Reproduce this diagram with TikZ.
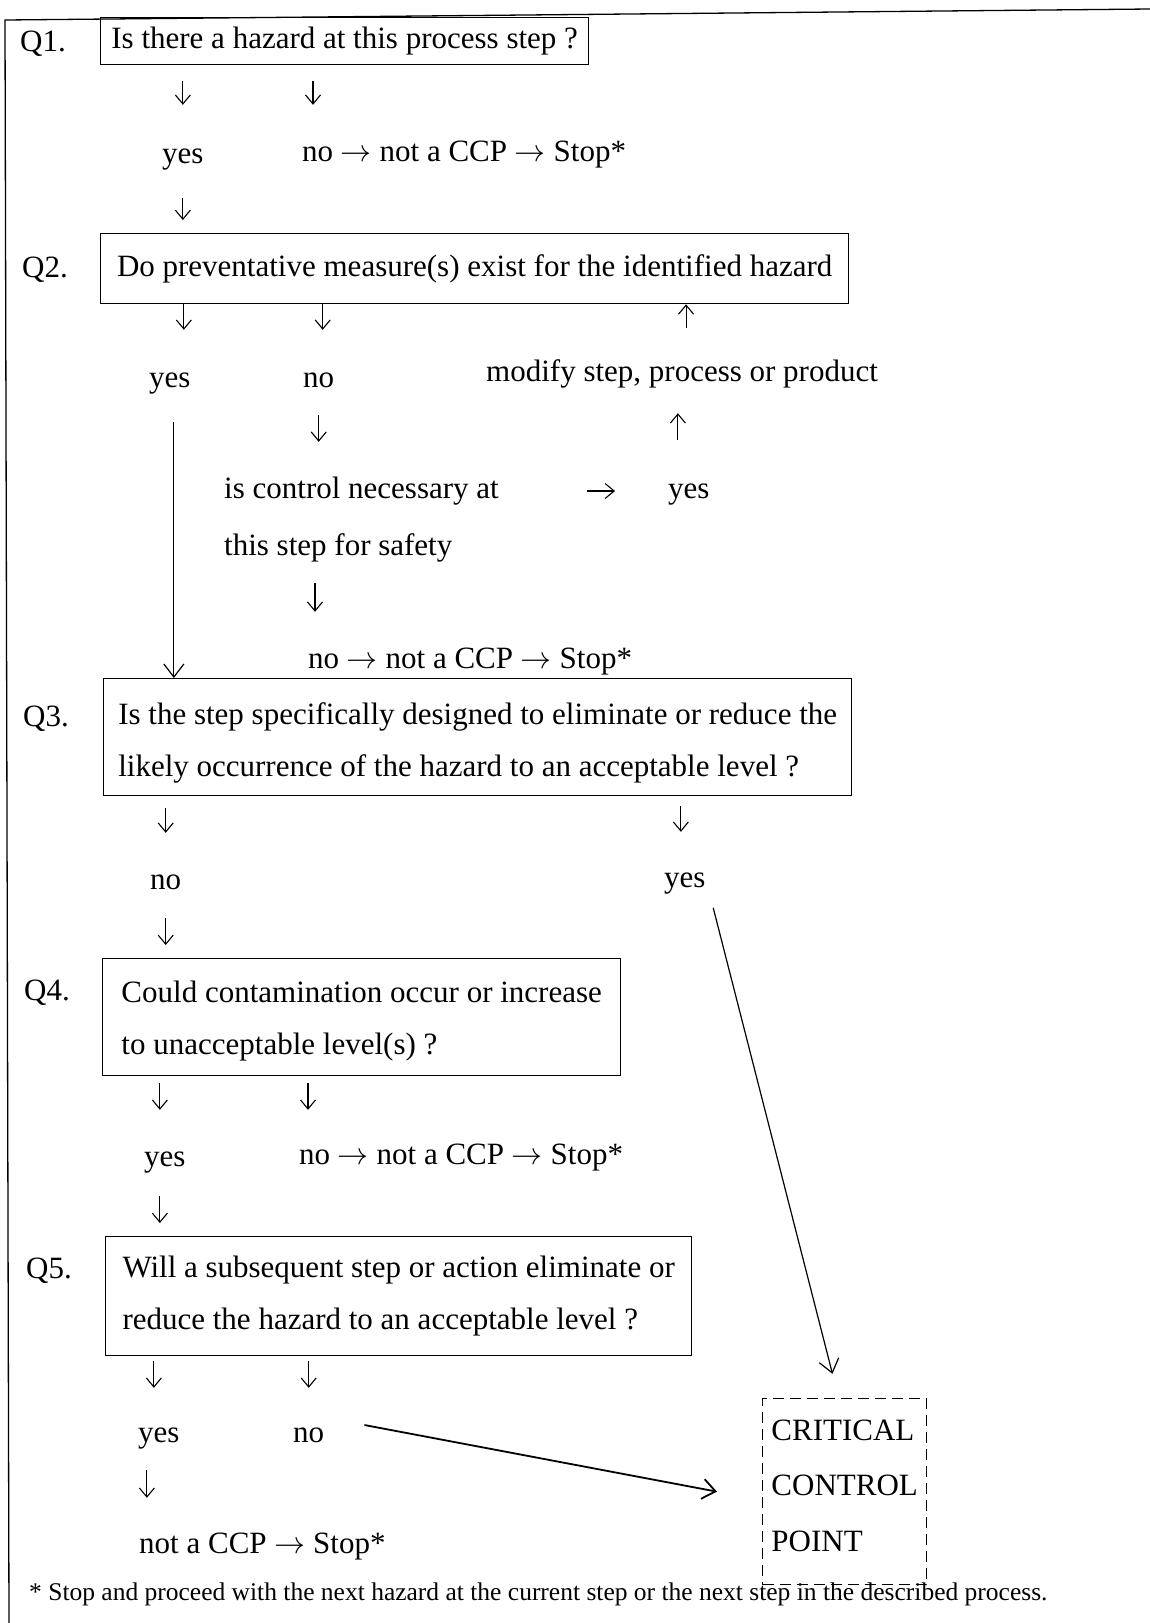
\RequirePackage{fix-cm}
\documentclass[tikz,border=0pt]{standalone}
\usepackage{fontspec}
\setmainfont{Liberation Serif}
\usetikzlibrary{arrows.meta}
\newcommand{\ra}{$\rightarrow$}
\tikzset{
  txt/.style={inner sep=0pt, anchor=base west, text height=21pt, text depth=7pt},
  qbox/.style={draw, line width=1.3pt, anchor=north west, align=left, inner xsep=2pt, inner ysep=0pt},
  arr/.style={line width=1.1pt, -{Straight Barb[length=9pt,width=15pt]}},
  bigarr/.style={line width=1.2pt, -{Straight Barb[length=13pt,width=20pt]}},
  gaps/.style 2 args={shorten <=#1pt, shorten >=#2pt}
}

\begin{document}
\begin{tikzpicture}[x=1pt, y=-1pt, font=\fontsize{31}{52}\selectfont]
\useasboundingbox (0,0) rectangle (1150,1623);
\draw[line width=1.3pt] (1150,9) -- (5,20) -- (9,1623); % frame, top and left only

% question boxes
\node[txt] (qa) at (20,51) {Q1.};
\node[qbox, minimum width=488pt, minimum height=47pt] (q1) at (100,17) {Is there a hazard at this process step ?};
\node[txt] (qb) at (22,277) {Q2.};
\node[qbox, minimum width=748pt, minimum height=70pt] (q2) at (100,233) {Do preventative measure(s) exist for the identified hazard};
\node[txt] (qc) at (23,726) {Q3.};
\node[qbox, minimum width=748pt, minimum height=117pt] (q3) at (103,678) {\rule{0pt}{33pt}Is the step specifically designed to eliminate or reduce the\\likely occurrence of the hazard to an acceptable level ?};
\node[txt] (qd) at (24,1000) {Q4.};
\node[qbox, minimum width=518pt, minimum height=117pt] (q4) at (102,958) {\rule{0pt}{29pt}Could contamination occur or increase\\to unacceptable level(s) ?};
\node[txt] (qe) at (26,1278) {Q5.};
\node[qbox, minimum width=586pt, minimum height=119pt] (q5) at (105,1236) {Will a subsequent step or action eliminate or\\reduce the hazard to an acceptable level ?};
\node[qbox, dash pattern=on 11pt off 6pt, minimum width=164pt, minimum height=186pt] (ccp) at (762,1398) {CRITICAL\\[3pt]CONTROL\\[4pt]POINT\rule[-12pt]{0pt}{12pt}};

% answers
\node[txt] (yes1) at (162,163) {yes};
\node[txt] (stop1) at (302,161) {no \ra{} not a CCP \ra{} Stop*};
\node[txt] (yes2) at (149,387) {yes};
\node[txt] (no2) at (303,387) {no};
\node[txt] (mod) at (486,381) {modify step, process or product};
\node[txt] (ctrl1) at (224,498) {is control necessary at};
\node[txt] (ctrl2) at (224,555) {this step for safety};
\node[txt] (yes3) at (668,498) {yes};
\node[txt] (stop2) at (308,668) {no \ra{} not a CCP \ra{} Stop*};
\node[txt] (no3) at (150,889) {no};
\node[txt] (yes4) at (664,887) {yes};
\node[txt] (yes5) at (144,1166) {yes};
\node[txt] (stop3) at (299,1164) {no \ra{} not a CCP \ra{} Stop*};
\node[txt] (yes6) at (138,1442) {yes};
\node[txt] (no6) at (293,1442) {no};
\node[txt] (stop4) at (139,1553) {not a CCP \ra{} Stop*};
\node[inner sep=0pt, anchor=base west, font=\fontsize{25.5}{30}\selectfont] (note) at (29,1600) {* Stop and proceed with the next hazard at the current step or the next step in the described process.};

% Q1
\draw[arr, gaps={16}{37}] (q1.south -| yes1) -- (yes1.north);
\draw[arr, gaps={16}{35}] ([xshift=11pt]q1.south -| stop1.west) -- ([xshift=11pt]stop1.north west);
\draw[arr, gaps={28}{13}] (yes1.south) -- (yes1.south |- q2.north);
% Q2
\draw[arr, gaps={0}{36}] ([xshift=14pt]q2.south -| yes2) -- ([xshift=14pt]yes2.north);
\draw[arr, gaps={0}{36}] ([xshift=4pt]q2.south -| no2) -- ([xshift=4pt]no2.north);
\draw[arr, gaps={32}{0}] ([xshift=4pt]mod.north) -- ([xshift=4pt]mod.north |- q2.south);
\draw[arr, gaps={21}{35}] (no2.south) -- (no2.south |- ctrl1.north);
\draw[arr, gaps={37}{25}] ([xshift=-11pt]yes3.north) -- ([xshift=-11pt]yes3.north |- mod.south);
\draw[arr, gaps={88}{53}] (ctrl1.east) -- (yes3.west);
\draw[arr, gaps={21}{35}] ([xshift=7pt]ctrl2.south -| stop2.west) -- ([xshift=7pt]stop2.north west);
\draw[bigarr, gaps={28}{0}] ([xshift=4pt]yes2.south) -- ([xshift=4pt]yes2.south |- q3.north);
% Q3
\draw[arr, gaps={12}{35}] (q3.south -| no3) -- (no3.north);
\draw[arr, gaps={10}{34}] ([xshift=-4pt]q3.south -| yes4) -- ([xshift=-4pt]yes4.north);
\draw[arr, gaps={22}{13}] (no3.south) -- (no3.south |- q4.north);
\draw[bigarr, gaps={14}{25}] ([xshift=4pt]yes4.south east) -- ([xshift=-6pt]ccp.north);
% Q4
\draw[arr, gaps={7}{35}] ([xshift=-5pt]q4.south -| yes5) -- ([xshift=-5pt]yes5.north);
\draw[arr, gaps={7}{33}] ([xshift=9pt]q4.south -| stop3.west) -- ([xshift=9pt]stop3.north west);
\draw[arr, gaps={23}{13}] ([xshift=-5pt]yes5.south) -- ([xshift=-5pt]yes5.south |- q5.north);
% Q5
\draw[arr, gaps={5}{33}] ([xshift=-5pt]q5.south -| yes6) -- ([xshift=-5pt]yes6.north);
\draw[arr, gaps={5}{33}] (q5.south -| no6) -- (no6.north);
\draw[arr, gaps={21}{34}] ([xshift=-12pt]yes6.south) -- ([xshift=-12pt]yes6.south |- stop4.north);
\draw[bigarr, line width=1.8pt] ([xshift=40pt,yshift=10pt]no6.east) -- ([xshift=-45pt]ccp.west);
\end{tikzpicture}
\end{document}
